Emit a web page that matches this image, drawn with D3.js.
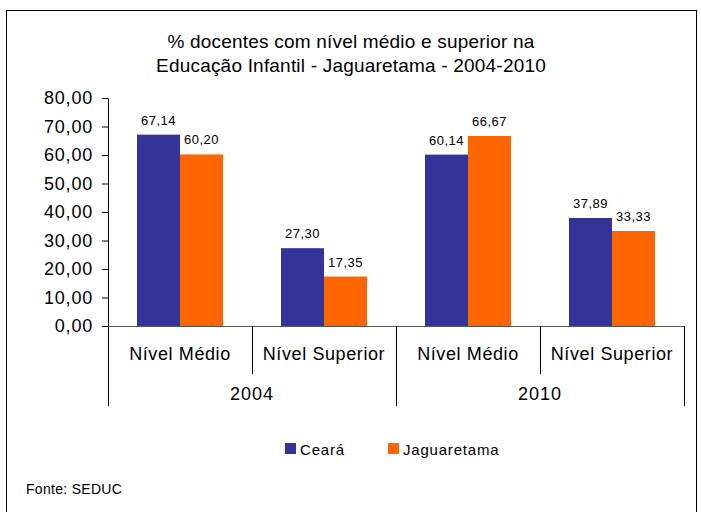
<!DOCTYPE html>
<html>
<head>
<meta charset="utf-8">
<script src="https://cdn.jsdelivr.net/npm/d3@7"></script>
<style>
  body { margin: 0; background: #fff; }
  text { font-family: "Liberation Sans", Arial, sans-serif; fill: #000; }
</style>
</head>
<body>
<svg></svg>
<script>
const years = ["2004", "2010"];
const levels = ["Nível Médio", "Nível Superior"];
const series = ["Ceará", "Jaguaretama"];
const ceara = [67.14, 27.30, 60.14, 37.89];
const jaguaretama = [60.20, 17.35, 66.67, 33.33];
const yTicks = [0, 10, 20, 30, 40, 50, 60, 70, 80];

const colors = ["#333399", "#ff6600"];

let width = 701;
let height = 512;
let svg = d3.select("svg")
            .attr("width", width)
            .attr("height", height);

// outer frame
svg.append("rect")
    .attr("x", 6.5).attr("y", 10.5)
    .attr("width", 690).attr("height", 520)
    .attr("fill", "none").attr("stroke", "#000");

// title
svg.append("text")
    .attr("x", 351).attr("y", 48)
    .attr("text-anchor", "middle")
    .style("font-size", "19px")
    .style("letter-spacing", "0.2px")
    .text("% docentes com nível médio e superior na");
svg.append("text")
    .attr("x", 351).attr("y", 72)
    .attr("text-anchor", "middle")
    .style("font-size", "19px")
    .style("letter-spacing", "0.2px")
    .text("Educação Infantil - Jaguaretama - 2004-2010");

// one category per (year, level)
let cats = [];
years.forEach(yr => levels.forEach(lv => cats.push(yr + "|" + lv)));

let x = d3.scaleBand()
    .domain(cats)
    .range([108, 684]);

let xSub = d3.scaleBand()
    .domain(series)
    .range([29, 115]);

let y = d3.scaleLinear()
    .domain([0, 80])
    .range([326, 98]);

let fmt = v => d3.format(".2f")(v).replace(".", ",");

// y axis
let yAxis = svg.append("g")
    .attr("transform", "translate(108,0)")
    .call(d3.axisLeft(y).tickValues(yTicks).tickSize(6).tickSizeOuter(0).tickPadding(9).tickFormat(fmt));
yAxis.select(".domain").attr("stroke", "#000");
yAxis.selectAll("line").attr("stroke", "#000");
yAxis.selectAll("text")
    .attr("fill", "#000")
    .style("font-size", "18px")
    .style("letter-spacing", "0.8px")
    .style("font-family", "'Liberation Sans', Arial, sans-serif");

// bars
let rows = cats.map((c, i) => ({ cat: c, values: [ceara[i], jaguaretama[i]] }));

let groups = svg.append("g")
    .selectAll("g")
    .data(rows)
    .enter()
    .append("g")
    .attr("transform", d => "translate(" + x(d.cat) + ",0)");

groups.selectAll("rect")
    .data(d => d.values.map((v, j) => ({ s: series[j], v: v, j: j })))
    .enter()
    .append("rect")
    .attr("x", d => xSub(d.s))
    .attr("y", d => y(d.v))
    .attr("width", xSub.bandwidth())
    .attr("height", d => y(0) - y(d.v))
    .attr("fill", d => colors[d.j]);

groups.selectAll("text")
    .data(d => d.values.map((v, j) => ({ s: series[j], v: v, j: j })))
    .enter()
    .append("text")
    .attr("x", d => xSub(d.s) + xSub.bandwidth() / 2)
    .attr("y", d => y(d.v) - 10)
    .attr("text-anchor", "middle")
    .style("font-size", "13px")
    .style("letter-spacing", "0.5px")
    .text(d => fmt(d.v));

// x axis baseline
svg.append("line")
    .attr("x1", 108).attr("x2", 684)
    .attr("y1", y(0) + 0.5).attr("y2", y(0) + 0.5)
    .attr("stroke", "#555");

// short separators between levels
years.forEach(yr => {
    let xs = x(yr + "|" + levels[1]);
    svg.append("line")
        .attr("x1", xs + 0.5).attr("x2", xs + 0.5)
        .attr("y1", y(0)).attr("y2", 374)
        .attr("stroke", "#000");
});

// long separators between years
let yearEdges = [x(years[0] + "|" + levels[0]), x(years[1] + "|" + levels[0]), x.range()[1]];
yearEdges.forEach(xs => {
    svg.append("line")
        .attr("x1", xs + 0.5).attr("x2", xs + 0.5)
        .attr("y1", y(0)).attr("y2", 406)
        .attr("stroke", "#000");
});

// level labels
svg.append("g")
    .selectAll("text")
    .data(cats)
    .enter()
    .append("text")
    .attr("x", d => x(d) + x.bandwidth() / 2)
    .attr("y", 360)
    .attr("text-anchor", "middle")
    .style("font-size", "18px")
    .style("letter-spacing", "0.6px")
    .text(d => d.split("|")[1]);

// year labels
svg.append("g")
    .selectAll("text")
    .data(years)
    .enter()
    .append("text")
    .attr("x", d => x(d + "|" + levels[0]) + x.bandwidth())
    .attr("y", 400)
    .attr("text-anchor", "middle")
    .style("font-size", "18px")
    .style("letter-spacing", "1px")
    .text(d => d);

// legend
let legendX = [285, 388];
let legend = svg.append("g")
    .selectAll("g")
    .data(series)
    .enter()
    .append("g")
    .attr("transform", (d, i) => "translate(" + legendX[i] + ",443)");
legend.append("rect")
    .attr("width", 11).attr("height", 11)
    .attr("fill", (d, i) => colors[i]);
legend.append("text")
    .attr("x", 15).attr("y", 12)
    .style("font-size", "15px")
    .style("letter-spacing", "0.8px")
    .text(d => d);

// source
svg.append("text")
    .attr("x", 26).attr("y", 494)
    .style("font-size", "14px")
    .style("letter-spacing", "0.3px")
    .text("Fonte: SEDUC");
</script>
</body>
</html>
